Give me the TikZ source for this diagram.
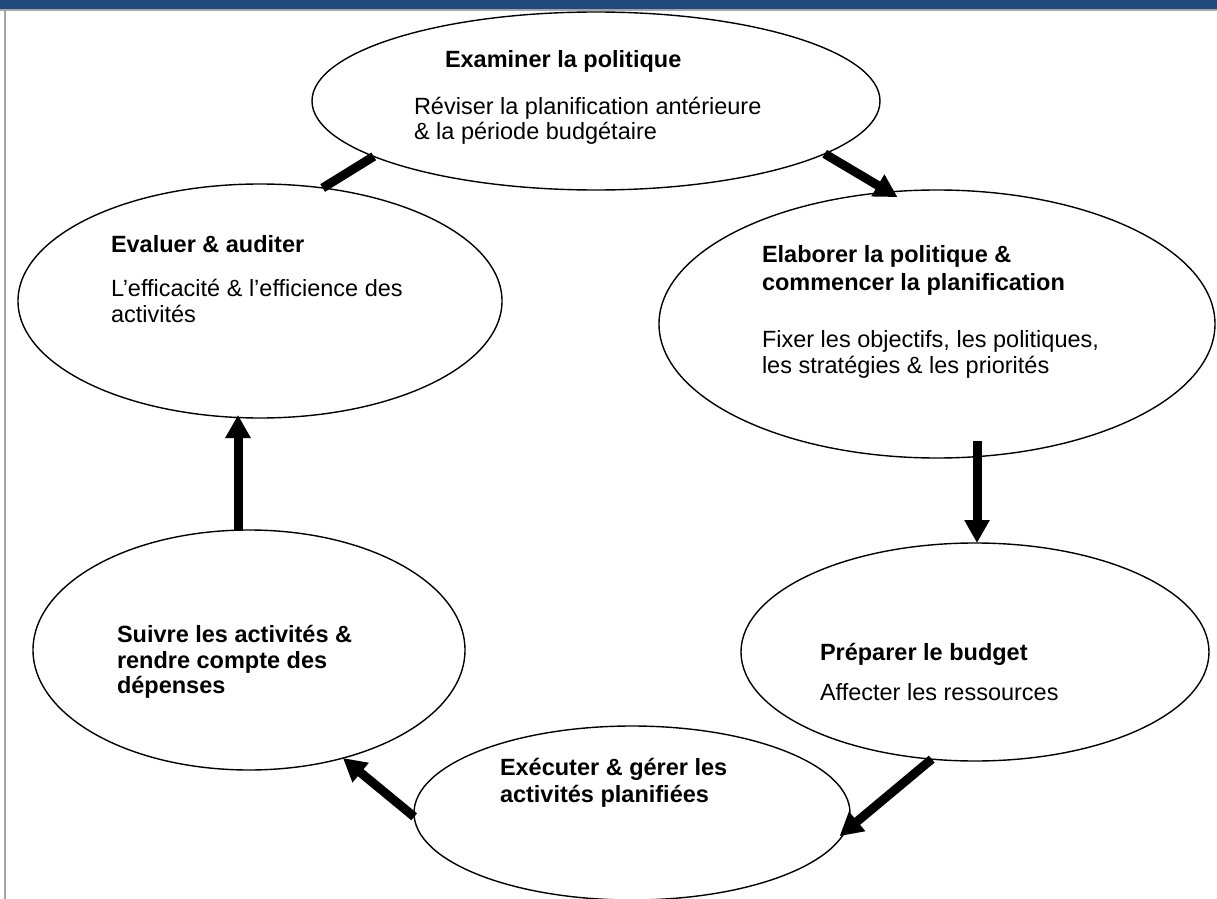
\documentclass[tikz,border=0pt]{standalone}
\usepackage{fontspec}
\setmainfont{Liberation Sans}
\usetikzlibrary{arrows.meta,shapes.geometric}
\definecolor{barblue}{HTML}{1F497D}
\definecolor{framegray}{HTML}{A6A6A6}

\begin{document}
\begin{tikzpicture}[x=0.5pt,y=-0.5pt,
  stage/.style={ellipse, draw=black, fill=white, line width=0.7pt,
    inner sep=0pt, outer sep=0pt},
  lbl/.style={anchor=base west, inner sep=0pt, outer sep=0pt,
    font=\fontsize{11.75pt}{13pt}\selectfont},
  ttl/.style={lbl, font=\fontsize{11.75pt}{13pt}\selectfont\bfseries},
  flow/.style={line width=4.5pt, -{Triangle[length=11.5pt,width=12pt]}},
  link/.style={line width=4.5pt}]

\useasboundingbox (0,0) rectangle (1217,899);

% page frame: left rule
\fill[framegray] (4,11) rectangle (6,899);

% the six stages of the cycle
\node[stage, minimum width=284pt, minimum height=89pt]  (ex)  at (596,101) {};
\node[stage, minimum width=242pt, minimum height=117pt] (ev)  at (260,301) {};
\node[stage, minimum width=278pt, minimum height=134pt] (el)  at (937,324) {};
\node[stage, minimum width=234pt, minimum height=109pt] (pr)  at (975,652) {};
\node[stage, minimum width=218pt, minimum height=87pt]  (exe) at (632,813) {};
\node[stage, minimum width=216pt, minimum height=120pt] (su)  at (249,650) {};

% header band
\fill[barblue] (0,0) rectangle (1217,9);
\fill[framegray] (0,9) rectangle (1217,11);

% texts
\node[ttl] (exT)  at (445,68)  {Examiner la politique};
\node[lbl] (exB1) at (414,115) {Réviser la planification antérieure};
\node[lbl] (exB2) at (414,140) {\& la période budgétaire};

\node[ttl] (evT)  at (111,252) {Evaluer \& auditer};
\node[lbl] (evB1) at (111,297) {L’efficacité \& l’efficience des};
\node[lbl] (evB2) at (111,322) {activités};

\node[ttl] (elT1) at (762,263) {Elaborer la politique \&};
\node[ttl] (elT2) at (762,291) {commencer la planification};
\node[lbl] (elB1) at (762,347) {Fixer les objectifs, les politiques,};
\node[lbl] (elB2) at (762,373) {les stratégies \& les priorités};

\node[ttl] (prT)  at (820,660) {Préparer le budget};
\node[lbl] (prB)  at (820,700) {Affecter les ressources};

\node[ttl] (exeT1) at (500,775) {Exécuter \& gérer les};
\node[ttl] (exeT2) at (500,802) {activités planifiées};

\node[ttl] (suT1) at (117,642) {Suivre les activités \&};
\node[ttl] (suT2) at (117,668) {rendre compte des};
\node[ttl] (suT3) at (117,693) {dépenses};

% connectors
\draw[link] (ev.61.9) -- (ex.194.6);
\draw[flow, shorten >=-5pt] (ex.-13.8) -- (el.110.2);
\draw[flow] ([xshift=20pt,yshift=8.5pt]el.south) -- ([xshift=1pt]pr.north);
\draw[flow, shorten >=-3.5pt] (pr.248.7) -- (exe.-5.6);
\draw[flow] (exe.181.3) -- (su.-49.8);
\draw[flow, shorten >=-1.5pt] ([xshift=-5.5pt]su.north) -- ([xshift=-11pt]ev.south);
\end{tikzpicture}
\end{document}
